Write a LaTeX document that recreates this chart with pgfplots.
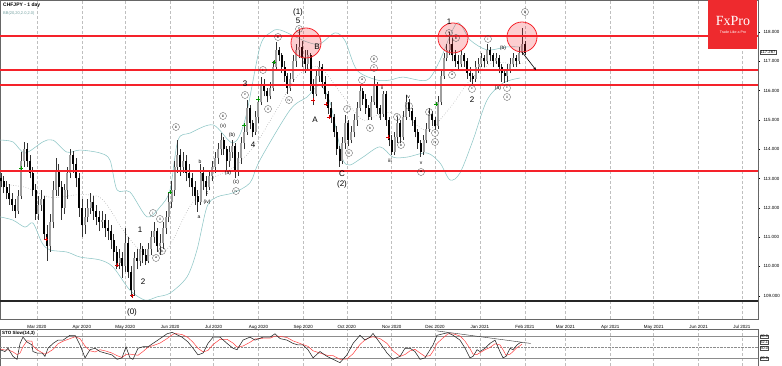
\documentclass[border=0pt]{standalone}
\usepackage{pgfplots}
\pgfplotsset{compat=1.18}
\usepackage{pgfplotstable}
\usepackage{fontspec}
\setmainfont{Liberation Sans}
\newfontfamily\seriffont{Liberation Serif}
\usetikzlibrary{arrows.meta}
\definecolor{bbc}{HTML}{8EC6C6}
\definecolor{lvl}{HTML}{F5222A}
\definecolor{fxred}{HTML}{EE2A2E}

\pgfplotstableread{
d o h l c
35 113.0 113.2 112.7 112.9
37 112.9 113.1 112.5 112.7
39 112.7 112.9 112.3 112.5
41 112.5 112.8 112.1 112.3
43 112.3 112.5 111.9 112.1
45 112.1 112.3 111.65 111.9
47 111.9 112.6 111.8 112.4
49 112.4 113.9 112.3 113.6
51 113.6 114.25 113.4 114.0
53 114.0 114.2 113.4 113.6
55 113.6 113.8 113.0 113.2
57 113.2 113.4 112.4 112.6
59 112.6 112.8 111.6 111.8
61 111.8 112.4 111.6 112.1
63 112.1 112.6 111.9 112.3
65 112.3 112.4 110.9 111.1
67 111.1 111.4 110.2 110.7
69 110.7 111.8 110.5 111.5
71 111.5 112.9 111.3 112.6
73 112.6 113.7 112.4 113.3
75 113.3 113.5 112.4 112.7
77 112.7 112.9 111.6 112.0
79 112.0 112.8 111.8 112.6
81 112.6 113.4 112.3 113.2
83 113.2 114.0 113.0 113.8
85 113.8 113.95 113.2 113.5
87 113.5 113.7 112.7 113.0
89 113.0 113.2 111.7 112.0
91 112.0 112.3 111.0 111.4
93 111.4 112.0 111.1 111.7
95 111.7 112.3 111.5 112.0
97 112.0 112.5 111.8 112.2
99 112.2 112.4 111.6 111.9
101 111.9 112.1 111.4 111.7
103 111.7 111.9 111.2 111.5
105 111.5 111.9 111.3 111.6
107 111.6 111.8 111.0 111.3
109 111.3 111.6 110.9 111.2
111 111.2 111.4 110.6 110.9
113 110.9 111.1 110.2 110.5
115 110.5 110.7 109.9 110.1
117 110.1 110.6 109.9 110.3
119 110.3 110.5 109.6 110.0
121 110.0 111.3 109.8 110.8
123 110.8 111.0 109.6 109.8
125 109.8 110.0 108.96 109.2
127 109.2 110.5 109.0 110.3
129 110.3 110.6 109.9 110.2
131 110.2 110.8 110.0 110.6
133 110.6 110.7 110.1 110.4
135 110.4 110.6 110.05 110.2
137 110.2 110.8 110.1 110.6
139 110.6 111.2 110.4 111.0
141 111.0 111.5 110.8 111.2
143 111.2 111.3 110.5 110.7
145 110.7 111.1 110.4 110.8
147 110.8 111.5 110.6 111.3
149 111.3 111.9 111.1 111.7
151 111.7 112.5 111.5 112.2
153 112.2 112.9 112.0 112.6
155 112.6 113.6 112.4 113.4
157 113.4 114.3 113.2 113.8
159 113.8 114.0 113.1 113.4
161 113.4 113.9 113.2 113.6
163 113.6 113.8 112.9 113.2
165 113.2 113.5 112.7 113.0
167 113.0 113.2 112.4 112.7
169 112.7 112.9 112.1 112.4
171 112.4 112.6 111.86 112.2
173 112.2 113.5 112.1 113.2
175 113.2 113.4 112.6 112.9
177 112.9 113.1 112.4 112.7
179 112.7 113.3 112.6 113.1
181 113.1 113.6 112.9 113.4
183 113.4 113.9 113.2 113.7
185 113.7 114.2 113.5 114.0
187 114.0 114.55 113.8 114.3
189 114.3 114.4 113.8 114.0
191 114.0 114.1 113.3 113.6
193 113.6 114.1 113.4 113.9
195 113.9 114.3 113.7 114.1
197 114.1 114.2 113.0 113.3
199 113.3 113.9 113.1 113.7
201 113.7 114.4 113.5 114.2
203 114.2 114.8 114.0 114.6
205 114.6 115.68 114.5 115.4
207 115.4 115.5 114.7 114.9
209 114.9 115.0 114.4 114.6
211 114.6 115.3 114.5 115.1
213 115.1 115.8 114.9 115.6
215 115.6 116.46 115.5 116.2
217 116.2 116.4 115.8 116.0
219 116.0 116.1 115.6 115.8
221 115.8 116.3 115.7 116.1
223 116.1 117.0 116.0 116.8
225 116.8 117.66 116.7 117.4
227 117.4 117.5 117.0 117.2
229 117.2 117.3 116.6 116.8
231 116.8 117.0 116.3 116.5
233 116.5 116.6 115.9 116.1
235 116.1 116.6 116.0 116.4
237 116.4 117.2 116.3 117.0
239 117.0 117.6 116.8 117.4
241 117.4 118.07 117.1 117.5
243 117.5 117.7 116.8 117.1
245 117.1 117.4 116.6 116.9
247 116.9 117.4 116.7 117.2
249 117.2 117.3 116.0 116.2
251 116.2 116.4 115.5 115.9
253 115.9 116.7 115.8 116.5
255 116.5 117.0 116.3 116.8
257 116.8 116.9 116.1 116.3
259 116.3 116.5 115.7 115.9
261 115.9 116.0 115.2 115.4
263 115.4 115.6 114.9 115.1
265 115.1 115.2 114.4 114.6
267 114.6 114.8 113.8 114.0
269 114.0 114.1 113.4 113.6
271 113.6 114.4 113.5 114.2
273 114.2 115.17 114.0 114.9
275 114.9 115.0 114.1 114.3
277 114.3 114.8 114.2 114.6
279 114.6 115.2 114.4 115.0
281 115.0 115.6 114.8 115.4
283 115.4 116.2 115.3 116.0
285 116.0 116.1 115.5 115.7
287 115.7 115.9 115.2 115.4
289 115.4 115.5 115.0 115.1
291 115.1 115.8 115.0 115.6
293 115.6 116.5 115.5 116.2
295 116.2 116.3 115.2 115.4
297 115.4 115.5 115.0 115.2
299 115.2 116.0 115.1 115.9
301 115.9 116.0 114.8 115.0
303 115.0 115.1 114.1 114.3
305 114.3 114.5 113.8 113.9
307 113.9 114.6 113.8 114.4
309 114.4 115.1 114.2 114.9
311 114.9 115.0 114.2 114.4
313 114.4 115.3 114.3 115.1
315 115.1 115.85 115.0 115.6
317 115.6 115.7 115.1 115.3
319 115.3 115.4 114.8 115.0
321 115.0 115.1 114.4 114.6
323 114.6 114.7 114.0 114.2
325 114.2 114.3 113.73 113.9
327 113.9 114.5 113.8 114.3
329 114.3 114.9 114.2 114.7
331 114.7 115.4 114.6 115.2
333 115.2 115.3 114.8 115.0
335 115.0 115.1 114.66 114.8
337 114.8 115.8 114.7 115.6
339 115.6 116.7 115.5 116.5
341 116.5 117.3 116.4 117.1
343 117.1 117.6 117.0 117.4
345 117.4 118.0 117.2 117.6
347 117.6 117.8 117.0 117.2
349 117.2 117.4 116.8 117.0
351 117.0 117.2 116.7 116.9
353 116.9 117.4 116.8 117.2
355 117.2 117.3 116.8 117.0
357 117.0 117.1 116.4 116.6
359 116.6 116.8 116.3 116.5
361 116.5 116.6 116.2 116.4
363 116.4 117.0 116.3 116.8
365 116.8 117.1 116.6 116.9
367 116.9 117.3 116.8 117.1
369 117.1 117.2 116.8 117.0
371 117.0 117.6 116.9 117.4
373 117.4 117.5 117.0 117.2
375 117.2 117.3 116.8 117.0
377 117.0 117.3 116.9 117.1
379 117.1 117.2 116.6 116.8
381 116.8 116.9 116.3 116.6
383 116.6 116.7 116.26 116.5
385 116.5 116.9 116.3 116.7
387 116.7 117.1 116.6 116.9
389 116.9 117.3 116.8 117.1
391 117.1 117.2 116.8 117.0
393 117.0 117.5 116.9 117.3
395 117.3 118.14 117.2 117.6
397 117.6 117.7 117.2 117.27
}\ohlc

\begin{document}
\begin{tikzpicture}
\useasboundingbox (0,0) rectangle (782pt,366pt);
\begin{axis}[
  at={(0pt,47pt)}, anchor=south west, scale only axis,
  width=758pt, height=319pt,
  xmin=34.44, xmax=558.06, ymin=108.205, ymax=119.092,
  xtick={60,91,121,152,182,213,244,274,305,335,366,397,425,456,486,517,547},
  xticklabels={Mar 2020,Apr 2020,May 2020,Jun 2020,Jul 2020,Aug 2020,Sep 2020,Oct 2020,Nov 2020,Dec 2020,Jan 2021,Feb 2021,Mar 2021,Apr 2021,May 2021,Jun 2021,Jul 2021},
  xmajorgrids, grid style={densely dashed, black!25, line width=0.4pt},
  xtick style={draw=none},
  ytick={109,110,...,118},
  ytick pos=right, yticklabel pos=right,
  yticklabel={\pgfmathprintnumber[fixed,fixed zerofill,precision=3,assume math mode=true]{\tick}},
  minor y tick num=4, tick align=outside, major tick length=2pt, minor tick length=1pt,
  ytick style={black, line width=0.3pt},
  ticklabel style={font=\fontsize{4.5}{5}\selectfont},
  xticklabel style={yshift=-0.5pt},
  axis line style={black!60, line width=0.4pt},
]
% Bollinger bands
\addplot[bbc, line width=0.55pt, smooth, tension=0.5] coordinates {
(34.4,114.31) (43.4,114.25) (51.7,113.87) (64.1,114.25) (71.1,114.31) (80.7,113.90) (89.7,113.97) (103.5,113.87) (110.4,113.63) (115.3,112.61) (124.2,112.54) (136,111.69) (145,112.03) (151.9,112.61) (157.4,114.31) (165.7,114.55) (181.6,114.83) (195.4,114.21) (203.7,115.0) (214,117.49) (221,117.97) (227.9,118.07) (246.5,117.66) (255.5,117.6) (265.9,117.97) (272.8,117.7) (281,116.7) (294.9,116.36) (303.9,116.36) (312.8,116.46) (329.4,116.36) (338.4,117.04) (350.1,118.31) (359.1,117.73) (370.9,117.39) (384.7,117.49) (395.7,117.49)};
\addplot[bbc, line width=0.55pt, smooth, tension=0.5] coordinates {
(34.4,111.69) (43.4,111.58) (51.7,111.34) (57.2,111.48) (63.5,110.80) (69,110.56) (80.7,110.49) (89.7,110.32) (103.5,110.22) (112.5,109.98) (124.2,109.19) (134.6,108.85) (142.9,108.96) (151.9,109.09) (163.6,109.64) (170.5,110.56) (177.4,112.03) (184.3,112.37) (195.4,112.51) (207.1,112.85) (214,113.63) (234.8,115.34) (246.5,115.78) (255.5,116.19) (262.4,115.6) (267,114.6) (271.4,113.63) (276.2,113.46) (285.2,113.73) (296.9,114.08) (305.9,113.73) (315.6,113.73) (329.4,113.87) (338.4,113.53) (345.3,112.95) (352.2,113.19) (361.2,114.31) (370.9,115.68) (382,116.26) (393.7,116.43)};
\addplot[black!45, dotted, line width=0.5pt, smooth] coordinates {
(35,112.8) (52,112.7) (70,112.35) (90,112.45) (105,112.3) (120,111.2) (135,110.4) (150,110.6) (165,112.0) (180,112.96) (195,113.35) (210,114.1) (225,115.3) (240,116.5) (255,116.8) (270,115.9) (285,115.0) (300,115.26) (315,115.09) (330,114.64) (345,115.4) (360,116.4) (375,116.95) (390,116.9) (397,116.95)};
% candles: wicks
\addplot[draw=none, mark=none, forget plot,
  error bars/.cd, y dir=plus, y explicit, error mark=none,
  error bar style={draw=black!80, line width=0.5pt}]
  table[x=d, y=l, y error plus expr=\thisrow{h}-\thisrow{l}] {\ohlc};
% bull bodies
\addplot[draw=none, mark=none, forget plot,
  restrict expr to domain={\thisrow{c}-\thisrow{o}}{0.001:100},
  error bars/.cd, y dir=plus, y explicit, error mark=none,
  error bar style={draw=black!38, line width=2pt}]
  table[x=d, y=o, y error plus expr=\thisrow{c}-\thisrow{o}] {\ohlc};
% bear bodies
\addplot[draw=none, mark=none, forget plot,
  restrict expr to domain={\thisrow{o}-\thisrow{c}}{0.001:100},
  error bars/.cd, y dir=plus, y explicit, error mark=none,
  error bar style={draw=black, line width=2pt}]
  table[x=d, y=c, y error plus expr=\thisrow{o}-\thisrow{c}] {\ohlc};
% levels
\addplot[lvl, line width=1.3pt] coordinates {(34.44,117.86) (558.06,117.86)};
\addplot[lvl, line width=1.3pt] coordinates {(34.44,116.70) (558.06,116.70)};
\addplot[lvl, line width=1.3pt] coordinates {(34.44,116.19) (558.06,116.19)};
\addplot[lvl, line width=1.3pt] coordinates {(34.44,113.26) (558.06,113.26)};
\addplot[black!85, line width=1.5pt] coordinates {(34.44,108.82) (558.06,108.82)};
% signal crosses
\addplot[only marks, mark=+, mark size=2pt, red!85!black, line width=0.7pt] coordinates {
(66.2,110.93) (115.3,110.05) (125.6,109.0) (250.7,115.68) (259.6,115.54) (261.7,115.1) (302.5,114.42)};
\addplot[only marks, mark=+, mark size=2pt, green!60!black, line width=0.7pt] coordinates {
(49,113.36) (151.9,112.54) (203,114.83) (212.7,115.71) (223.7,116.98) (335.6,115.54)};
\end{axis}

\begin{axis}[
  at={(0pt,0pt)}, anchor=south west, scale only axis,
  width=758pt, height=37pt,
  xmin=34.44, xmax=558.06, ymin=0, ymax=100,
  xtick={60,91,121,152,182,213,244,274,305,335,366,397,425,456,486,517,547},
  xticklabels={}, xtick style={draw=none},
  xmajorgrids, grid style={densely dashed, black!25, line width=0.4pt},
  ytick=\empty,
  axis line style={black!60, line width=0.4pt},
]
\addplot[black!45, line width=0.4pt] coordinates {(34.44,80) (558.06,80)};
\addplot[black!45, line width=0.4pt] coordinates {(34.44,20) (558.06,20)};
\addplot[black!45, densely dotted, line width=0.4pt] coordinates {(34.44,50) (558.06,50)};
\addplot[red!75, line width=0.5pt] coordinates {
(34.4,46) (37.9,43) (40,44) (43.4,38) (46.2,31) (48.3,35) (50.3,52) (53.1,68) (56.5,67) (57.2,54) (60,44) (63.5,36) (65.5,32) (67.6,36) (71.1,45) (74.5,60) (78,67) (82.8,74) (86.3,79) (89.7,74) (93.2,54) (96.6,41) (100.1,38) (103.5,44) (107,41) (111.8,35) (115.3,28) (118.7,23) (121.5,31) (124.2,32) (126.3,31) (129.8,29) (133.2,39) (136.7,51) (140.1,55) (145,62) (149.8,74) (153.3,84) (155.3,88) (160.2,85) (164.3,77) (167.8,64) (171.2,48) (174.7,38) (178.1,42) (181.6,58) (186.4,72) (191.3,72) (195.4,62) (198.2,51) (202.3,54) (207.1,64) (210.6,73) (216.1,75) (221,75) (224.4,81) (227.9,80) (232.7,77) (236.8,68) (240.3,63) (243.7,58) (247.2,53) (250.7,41) (255.5,35) (260.3,29) (264.5,28) (269.3,18) (274.1,19) (278.3,33) (283.1,58) (286.6,71) (290,77) (292.1,79) (297,74) (301.8,61) (305.9,41) (310.8,26) (314.2,31) (317.7,41) (321.1,45) (324.6,35) (328,26) (331.5,28) (333.6,40) (336.3,61) (340.5,76) (343.9,87) (347.4,87) (352.2,81) (355.7,67) (359.1,47) (361.2,32) (364,31) (366,36) (369.5,44) (372.9,50) (376.4,60) (379.8,57) (381.9,44) (384,29) (386.8,32) (388.8,39) (391.6,50) (393.7,55) (395,59)};
\addplot[black!85, line width=0.55pt] coordinates {
(34.4,44) (37.9,39) (40,48) (43.4,26) (46.2,18) (48.3,61) (50.3,78) (53.1,65) (56.5,57) (57.2,39) (60,35) (63.5,35) (65.5,26) (67.6,48) (71.1,61) (74.5,70) (78,70) (82.8,83) (86.3,83) (89.7,57) (93.2,22) (96.6,44) (100.1,48) (103.5,39) (107,35) (111.8,30) (115.3,18) (118.7,22) (121.5,52) (124.2,22) (126.3,18) (129.8,48) (133.2,52) (136.7,52) (140.1,61) (145,74) (149.8,87) (153.3,91) (155.3,87) (160.2,78) (164.3,65) (167.8,48) (171.2,30) (174.7,35) (178.1,61) (181.6,78) (186.4,78) (191.3,61) (195.4,48) (198.2,44) (202.3,70) (207.1,78) (210.6,70) (216.1,78) (221,78) (224.4,87) (227.9,74) (232.7,70) (236.8,61) (240.3,57) (243.7,57) (247.2,44) (250.7,22) (255.5,39) (260.3,26) (264.5,18) (269.3,9) (274.1,30) (278.3,61) (283.1,83) (286.6,70) (290,78) (292.1,88) (297,62) (301.8,35) (305.9,18) (310.8,26) (314.2,48) (317.7,48) (321.1,39) (324.6,18) (328,22) (331.5,44) (333.6,57) (336.3,83) (340.5,87) (343.9,90) (347.4,83) (352.2,70) (355.7,48) (359.1,22) (361.2,26) (364,44) (366,39) (369.5,48) (372.9,61) (376.4,70) (379.8,39) (381.9,22) (384,26) (386.8,48) (388.8,44) (391.6,57) (393.7,63) (395,63)};
\addplot[black!80, line width=0.4pt] coordinates {(336,95) (401,61)};
\end{axis}

\begin{scope}[shift={(0pt,366pt)}, x=1pt, y=-1pt]
\tikzset{
  big/.style={font=\fontsize{8}{8}\selectfont, inner sep=0pt},
  sm/.style={font=\fontsize{5}{5}\selectfont, inner sep=0pt},
  cir/.style={circle, draw=black!70, line width=0.3pt, inner sep=0pt, minimum size=7pt, font=\fontsize{3.5}{3.5}\selectfont},
  lab/.style={draw=black!70, line width=0.3pt, fill=white, font=\fontsize{3.8}{4}\selectfont, inner sep=0.4pt, anchor=west},
}
% header
\node[anchor=west, inner sep=0pt, font=\bfseries\fontsize{5}{5}\selectfont] at (3,5) {CHFJPY - 1 day};
\node[anchor=west, inner sep=0pt, text=bbc!80!black, font=\fontsize{4}{4}\selectfont] at (3,13) {BB(20,20,2.0,2.0)};
\node[anchor=west, inner sep=0pt, font=\bfseries\fontsize{4.5}{4.5}\selectfont] at (2,333) {STO Slow(14,3)};
% logo
\fill[fxred] (708,0) rectangle (757,49);
\node[white, inner sep=0pt, font=\seriffont\fontsize{14}{14}\selectfont] at (733,21) {FxPro};
\node[white, inner sep=0pt, font=\fontsize{3.6}{4}\selectfont] at (733,32) {Trade Like a Pro};
% price and stochastic labels
\node[lab, font=\fontsize{4.2}{4.5}\selectfont] at (760,52) {117.267};
\node[lab] at (760,336.4) {80.0};
\node[lab] at (760,342.2) {62.1};
\node[lab] at (760,348.0) {50.0};
\node[lab] at (760,358.6) {20.0};
% circles and arrow
\draw[lvl, line width=0.8pt, fill=lvl, fill opacity=0.22] (306,43) circle[radius=15pt];
\draw[lvl, line width=0.8pt, fill=lvl, fill opacity=0.22] (453,38) circle[radius=15pt];
\draw[lvl, line width=0.8pt, fill=lvl, fill opacity=0.22] (522,37) circle[radius=15pt];
\draw[-{Stealth[length=3pt,width=2.5pt]}, line width=0.6pt] (522,52) -- (536,70);
% wave labels
\node[big] at (298,12) {(1)};
\node[big] at (298,20.5) {5};
\node[cir] at (299,29) {v};
\node[big] at (317,47) {B};
\node[big] at (315,120) {A};
\node[big] at (342,174) {C};
\node[big] at (342,184) {(2)};
\node[big] at (449,22) {1};
\node[cir] at (449,33) {v};
\node[cir] at (456,38) {b};
\node[cir] at (452,75) {a};
\node[cir] at (472,89) {c};
\node[big] at (472,100) {2};
\node[cir] at (488,39) {i};
\node[sm] at (503,48) {(b)};
\node[sm] at (498,88) {(a)};
\node[cir] at (507,88) {c};
\node[cir] at (507,97) {ii};
\node[cir] at (525,12) {iii};
\node[big] at (245,84) {3};
\node[cir] at (245,95) {v};
\node[big] at (253,145) {4};
\node[cir] at (263,70) {i};
\node[cir] at (268,109) {ii};
\node[cir] at (278,37) {iii};
\node[cir] at (289,100) {iv};
\node[cir] at (347,109) {i};
\node[cir] at (349,153) {ii};
\node[cir] at (362,80) {a};
\node[cir] at (370,128) {b};
\node[cir] at (374,68) {c};
\node[cir] at (374,59) {iii};
\node[sm] at (380,117) {i};
\node[sm] at (382,88) {ii};
\node[sm] at (390,161) {iii};
\node[cir] at (397,117) {a};
\node[cir] at (401,145) {b};
\node[sm] at (408,97) {iv};
\node[cir] at (409,106) {c};
\node[sm] at (421,163) {v};
\node[cir] at (421,172) {a};
\node[cir] at (429,112) {b};
\node[cir] at (435,133) {c};
\node[cir] at (435,142) {iv};
\node[big] at (140,230) {1};
\node[big] at (143,282) {2};
\node[big] at (132,312) {(0)};
\node[cir] at (153,213) {i};
\node[cir] at (160,219) {ii};
\node[cir] at (162,251) {b};
\node[cir] at (156,258) {a};
\node[cir] at (176,127) {iii};
\node[sm] at (199,217) {a};
\node[sm] at (200,162) {b};
\node[sm] at (207,193) {c};
\node[sm] at (207,202) {(iv)};
\node[cir] at (223,116) {iii};
\node[sm] at (223,126) {(v)};
\node[sm] at (232,135) {(b)};
\node[sm] at (228,173) {(a)};
\node[sm] at (236,182) {(c)};
\node[cir] at (236,191) {iv};
\end{scope}
\end{tikzpicture}
\end{document}
